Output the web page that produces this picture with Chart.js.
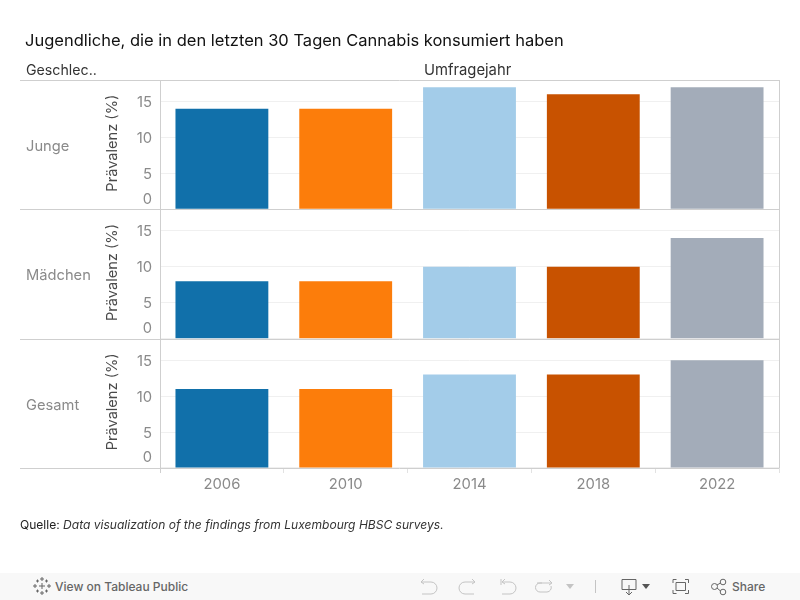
<!DOCTYPE html>
<html lang="de">
<head>
<meta charset="utf-8">
<title>Cannabiskonsum Jugendliche</title>
<script src="https://cdn.jsdelivr.net/npm/chart.js@4/dist/chart.umd.min.js"></script>
<style>
    html, body { margin: 0; padding: 0; background: #fff; font-family: Inter, sans-serif; }
    #wrap { position: relative; width: 800px; height: 600px; overflow: hidden; }
    #grafico { position: absolute; left: 0; top: 0; }
    .txt { position: absolute; white-space: nowrap; }
    #titel { left: 25px; top: 29px; font-size: 16.5px; line-height: 22px; color: #111; }
    #kopfZeile { left: 26px; top: 61px; font-size: 14.200px; line-height: 17px; color: #333; }
    #kopfSpalte { left: 424px; top: 62px; font-size: 14.800px; line-height: 17px; color: #333; }
    #quelle { left: 20px; top: 517px; font-size: 12.050px; line-height: 16px; color: #222; }
    #quelle i { color: #333; }
    #leiste { position: absolute; left: 0; top: 573px; width: 800px; height: 27px; background: #f8f8f8; color: #666; font-size: 12px; font-weight: 500; }
    #leiste span { position: absolute; top: 6px; line-height: 16px; }
    #leiste svg { position: absolute; left: 0; top: 0; }
</style>
</head>
<body>
<div id="wrap">
    <canvas id="grafico" width="800" height="600"></canvas>
    <div class="txt" id="titel">Jugendliche, die in den letzten 30 Tagen Cannabis konsumiert haben</div>
    <div class="txt" id="kopfZeile">Geschlec..</div>
    <div class="txt" id="kopfSpalte">Umfragejahr</div>
    <div class="txt" id="quelle">Quelle: <i>Data visualization of the findings from Luxembourg HBSC surveys.</i></div>
    <div id="leiste">
        <svg width="800" height="27" fill="none" stroke="#777" stroke-width="1">
            <!-- Tableau Logo -->
            <path d="M42 10v6M39 13h6M42 4v4M40 6h4M42 18v4M40 20h4M35 11v4M33 13h4M49 11v4M47 13h4M37.500 6.500v3M36 8h3M46.500 6.500v3M45 8h3M37.500 16.500v3M36 18h3M46.500 16.500v3M45 18h3" stroke="#666"/>
            <!-- rueckgaengig usw. -->
            <path d="M421 9h10a6 6 0 0 1 0 12h-9M424 6l-3 3 3 2" stroke="#c4c4c4"/>
            <path d="M475 9h-10a6 6 0 0 0 0 12h9M472 6l3 3-3 2" stroke="#c4c4c4"/>
            <path d="M501 6v6M503 9h7a6 6 0 0 1 0 12h-8M505 6l-3 3 3 2" stroke="#c4c4c4"/>
            <path d="M542 10h-2a4.500 4.500 0 0 0 0 9h7a4.500 4.500 0 0 0 4-6M549 7l3 3-3 2M537 10h14" stroke="#c4c4c4"/>
            <path d="M566 11h8l-4 5z" fill="#c4c4c4" stroke="none"/>
            <path d="M595.500 7v13" stroke="#c4c4c4"/>
            <path d="M622 6.500h14v10h-14zM629 12v10M626 19l3 3 3-3" stroke="#666"/>
            <path d="M642 11h8l-4 5z" fill="#555" stroke="none"/>
            <path d="M673 10V6.500h3.500M685 6.500h3.500V10M688.500 17v3.500H685M676.500 20.500H673V17M676 9.500h9.500v8H676z" stroke="#666"/>
            <circle cx="714.500" cy="13.500" r="3" stroke="#666"/><circle cx="723" cy="9" r="2.800" stroke="#666"/><circle cx="723" cy="19" r="2.800" stroke="#666"/>
            <path d="M717 12l3.500-2M717 15l3.500 3" stroke="#666"/>
        </svg>
        <span style="left:55px">View on Tableau Public</span>
        <span style="left:732px">Share</span>
    </div>
</div>

<script>
const jahre = ["2006", "2010", "2014", "2018", "2022"];
const gruppen = ["Junge", "Mädchen", "Gesamt"];
const junge = [14, 14, 17, 16, 17];
const maedchen = [8, 8, 10, 10, 14];
const gesamt = [11, 11, 13, 13, 15];
const yTicks = [0, 5, 10, 15];
const yMax = 18;
const yTitel = "Prävalenz (%)";
const farben = ["#1170aa", "#fc7d0b", "#a3cce9", "#c85200", "#a3acb9"];

const schrift = "Inter, sans-serif";
const linie = "#cfcfcf";

function yAchse(gewicht) {
    return {
        type: "linear",
        position: "left",
        stack: "panels",
        stackWeight: 1,
        weight: gewicht,
        min: 0,
        max: yMax,
        border: { display: false },
        grid: { color: "#f0f0f0", drawTicks: false },
        afterBuildTicks: scale => { scale.ticks = yTicks.map(v => ({ value: v })); },
        // die 0 zeichnet der Plugin selbst, leicht nach oben versetzt
        ticks: { font: { family: schrift, size: 14.8 }, color: "#8a8a8a", padding: 8, labelOffset: 1,
                 callback: v => (v === 0 ? "" : v) },
        afterFit: scale => { scale.width = 55; }
    };
}

// Rahmen, Zeilenbeschriftung, Achsentitel und die versetzte 0
const rahmen = {
    id: "rahmen",
    afterDraw(chart) {
        const { ctx, chartArea: { left, right, top, bottom } } = chart;
        ctx.save();
        ctx.strokeStyle = linie;
        ctx.lineWidth = 1;
        ctx.beginPath();
        ["y1", "y2", "y3"].forEach((id, i) => {
            const s = chart.scales[id];
            const mitte = (s.top + s.bottom) / 2;
            if (i === 0) {
                ctx.moveTo(20, Math.round(s.top) + 0.5);
                ctx.lineTo(right, Math.round(s.top) + 0.5);
            }
            ctx.moveTo(20, Math.round(s.bottom) + 0.5);
            ctx.lineTo(right, Math.round(s.bottom) + 0.5);

            ctx.fillStyle = "#8a8a8a";
            ctx.font = "14.7px " + schrift;
            ctx.textBaseline = "middle";
            ctx.textAlign = "left";
            ctx.fillText(gruppen[i], 26, mitte + 1.5 + (i === 2 ? 1 : 0));
            ctx.textAlign = "right";
            ctx.fillText("0", 152, s.getPixelForValue(0) - 10);

            // Achsentitel gedreht, sitzt etwas ueber der Mitte
            ctx.save();
            ctx.translate(113, mitte - 1.5);
            ctx.rotate(-Math.PI / 2);
            ctx.textAlign = "center";
            ctx.fillStyle = "#4a4a4a";
            ctx.font = "14.6px " + schrift;
            ctx.fillText(yTitel, 0, 0);
            ctx.restore();
        });
        ctx.moveTo(Math.round(left) + 0.5, top);
        ctx.lineTo(Math.round(left) + 0.5, bottom + 5);
        ctx.moveTo(Math.round(right) + 0.5, top);
        ctx.lineTo(Math.round(right) + 0.5, bottom);
        ctx.stroke();
        ctx.restore();
    }
};

function reihe(name, werte, achse) {
    return { label: name, data: werte, yAxisID: achse, backgroundColor: farben, grouped: false,
             categoryPercentage: 1, barPercentage: 0.75 };
}

new Chart(document.getElementById("grafico").getContext("2d"), {
    type: "bar",
    data: {
        labels: jahre,
        datasets: [
            reihe(gruppen[0], junge, "y1"),
            reihe(gruppen[1], maedchen, "y2"),
            reihe(gruppen[2], gesamt, "y3")
        ]
    },
    options: {
        responsive: false,
        animation: false,
        layout: { padding: { left: 105, right: 21, top: 80, bottom: 100 } },
        plugins: { legend: { display: false }, tooltip: { enabled: false }, title: { display: false } },
        scales: {
            x: {
                type: "category",
                offset: true,
                border: { display: false },
                grid: { offset: true, drawOnChartArea: false, color: "#e2e2e2", tickLength: 5 },
                ticks: { font: { family: schrift, size: 14.8 }, color: "#8a8a8a", padding: 3, maxRotation: 0 },
                afterFit: scale => { scale.height = 32; }
            },
            y1: yAchse(3),
            y2: yAchse(2),
            y3: yAchse(1)
        }
    },
    plugins: [rahmen]
});
</script>
</body>
</html>
